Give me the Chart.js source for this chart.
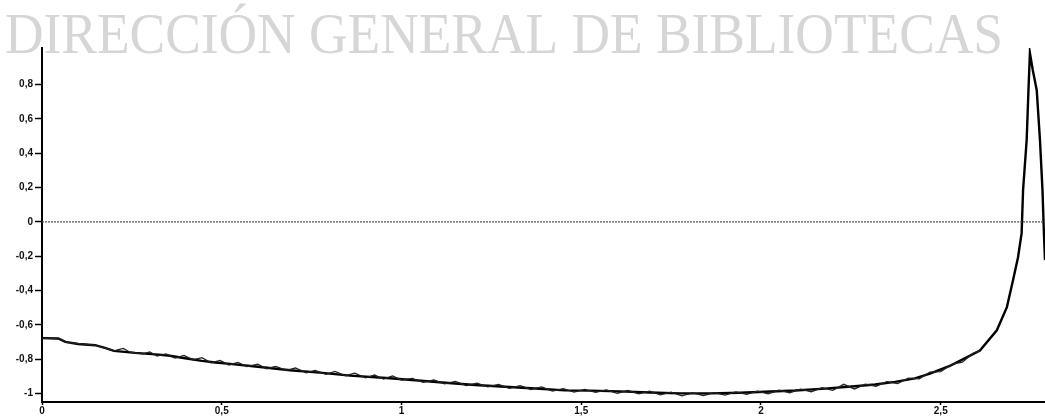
<!DOCTYPE html>
<html>
<head>
<meta charset="utf-8">
<script src="https://cdn.jsdelivr.net/npm/chart.js@4/dist/chart.umd.min.js"></script>
<style>
  html, body { margin: 0; padding: 0; background: #fff; }
  #wrap { width: 1045px; height: 419px; position: relative; }
</style>
</head>
<body>
<div id="wrap"><canvas id="c" width="1045" height="419"></canvas></div>
<script>
var watermarkText = 'DIRECCIÓN GENERAL DE BIBLIOTECAS';

var xTicks = [0, 0.5, 1, 1.5, 2, 2.5];
var yTicks = [-1, -0.8, -0.6, -0.4, -0.2, 0, 0.2, 0.4, 0.6, 0.8];

// main curve
var mainX = [0, 0.045, 0.065, 0.10, 0.148, 0.175, 0.20, 0.259, 0.306, 0.351, 0.398, 0.445, 0.482, 0.523,
  0.607, 0.690, 0.773, 0.857, 0.968, 1.038, 1.122, 1.205, 1.288, 1.372, 1.455, 1.524, 1.608, 1.691,
  1.775, 1.858, 1.942, 2.011, 2.095, 2.178, 2.261, 2.317, 2.373, 2.428, 2.470, 2.525, 2.553, 2.609,
  2.656, 2.684, 2.701, 2.715, 2.725, 2.729, 2.739, 2.744, 2.748, 2.756, 2.767, 2.776, 2.783, 2.787, 2.790];
var mainY = [-0.678, -0.680, -0.700, -0.712, -0.719, -0.735, -0.752, -0.764, -0.771, -0.779, -0.795, -0.810, -0.820, -0.828,
  -0.846, -0.865, -0.879, -0.896, -0.912, -0.923, -0.938, -0.951, -0.961, -0.971, -0.982, -0.984, -0.988, -0.995,
  -1.000, -1.000, -0.996, -0.990, -0.983, -0.972, -0.958, -0.948, -0.933, -0.912, -0.885, -0.840, -0.810, -0.750,
  -0.632, -0.497, -0.340, -0.206, -0.066, 0.185, 0.477, 0.767, 0.984, 0.885, 0.767, 0.477, 0.185, -0.066, -0.223];

// measured (noisy) curve
var measX = [0, 0.050, 0.070, 0.150, 0.200, 0.226, 0.245, 0.280, 0.300, 0.320, 0.345, 0.370, 0.395, 0.420,
  0.445, 0.470, 0.495, 0.520, 0.545, 0.570, 0.600, 0.625, 0.650, 0.680, 0.705, 0.735, 0.760, 0.790,
  0.815, 0.845, 0.870, 0.900, 0.925, 0.950, 0.975, 1.000, 1.030, 1.060, 1.090, 1.120, 1.150, 1.180,
  1.210, 1.240, 1.270, 1.300, 1.330, 1.360, 1.390, 1.420, 1.450, 1.480, 1.510, 1.540, 1.570, 1.600,
  1.630, 1.660, 1.690, 1.720, 1.750, 1.780, 1.810, 1.840, 1.870, 1.900, 1.930, 1.960, 1.990, 2.020,
  2.050, 2.080, 2.110, 2.140, 2.170, 2.200, 2.230, 2.260, 2.290, 2.320, 2.350, 2.380, 2.410, 2.440,
  2.470, 2.500, 2.530, 2.560, 2.590, 2.610];
var measY = [-0.678, -0.682, -0.702, -0.720, -0.752, -0.738, -0.760, -0.770, -0.758, -0.782, -0.770, -0.794, -0.778, -0.804,
  -0.792, -0.822, -0.808, -0.834, -0.820, -0.844, -0.830, -0.856, -0.843, -0.866, -0.852, -0.880, -0.866, -0.889,
  -0.872, -0.897, -0.882, -0.909, -0.893, -0.916, -0.898, -0.922, -0.912, -0.936, -0.922, -0.944, -0.930, -0.954,
  -0.941, -0.962, -0.947, -0.970, -0.955, -0.977, -0.962, -0.986, -0.972, -0.992, -0.977, -0.994, -0.979, -0.999,
  -0.983, -1.002, -0.987, -1.008, -0.993, -1.014, -0.997, -1.012, -0.995, -1.010, -0.991, -1.006, -0.987, -1.002,
  -0.981, -0.996, -0.975, -0.990, -0.967, -0.982, -0.947, -0.974, -0.946, -0.958, -0.931, -0.943, -0.911, -0.915,
  -0.876, -0.873, -0.831, -0.818, -0.766, -0.750];

var zeroX = [0, 2.79];
var zeroY = [0, 0];

function pts(xs, ys) {
  return xs.map(function (x, i) { return { x: x, y: ys[i] }; });
}

function comma(v) {
  return String(Math.round(v * 10) / 10).replace('.', ',');
}

var watermark = {
  id: 'watermark',
  beforeDraw: function (chart) {
    var ctx = chart.ctx;
    ctx.save();
    ctx.font = '58px "Liberation Serif"';
    var w = ctx.measureText(watermarkText).width;
    ctx.translate(5, 53);
    ctx.scale(998 / w, 1);
    ctx.fillStyle = '#d6d6d6';
    ctx.textBaseline = 'alphabetic';
    ctx.fillText(watermarkText, 0, 0);
    ctx.restore();
  }
};

var tickFont = { family: '"Liberation Sans", Arial, sans-serif', size: 10, weight: 'bold' };

new Chart(document.getElementById('c'), {
  type: 'scatter',
  data: {
    datasets: [{
      data: pts(zeroX, zeroY),
      showLine: true,
      borderColor: '#555',
      borderWidth: 1.2,
      borderDash: [2, 1],
      pointRadius: 0
    }, {
      data: pts(measX, measY),
      showLine: true,
      borderColor: '#222',
      borderWidth: 1.3,
      pointRadius: 0
    }, {
      data: pts(mainX, mainY),
      showLine: true,
      borderColor: '#000',
      borderWidth: 2.4,
      pointRadius: 0
    }]
  },
  options: {
    responsive: false,
    animation: false,
    layout: { padding: { top: 48, right: 0, left: 0, bottom: 0 } },
    plugins: { legend: { display: false }, tooltip: { enabled: false } },
    scales: {
      x: {
        type: 'linear',
        min: 0,
        max: 2.79,
        afterBuildTicks: function (s) { s.ticks = xTicks.map(function (v) { return { value: v }; }); },
        afterFit: function (s) { s.height = 17; },
        border: { display: true, color: '#000', width: 2 },
        grid: { drawOnChartArea: false, drawTicks: true, tickLength: 3, color: '#000', tickWidth: 1.5 },
        ticks: { color: '#111', font: tickFont, padding: 0, maxRotation: 0, callback: comma }
      },
      y: {
        type: 'linear',
        min: -1.05,
        max: 1.013,
        afterBuildTicks: function (s) { s.ticks = yTicks.map(function (v) { return { value: v }; }); },
        afterFit: function (s) { s.width = 42; },
        border: { display: true, color: '#000', width: 2 },
        grid: { drawOnChartArea: false, drawTicks: true, tickLength: 7, color: '#000', tickWidth: 1.5 },
        ticks: { color: '#111', font: tickFont, padding: 2, callback: comma }
      }
    }
  },
  plugins: [watermark]
});
</script>
</body>
</html>
